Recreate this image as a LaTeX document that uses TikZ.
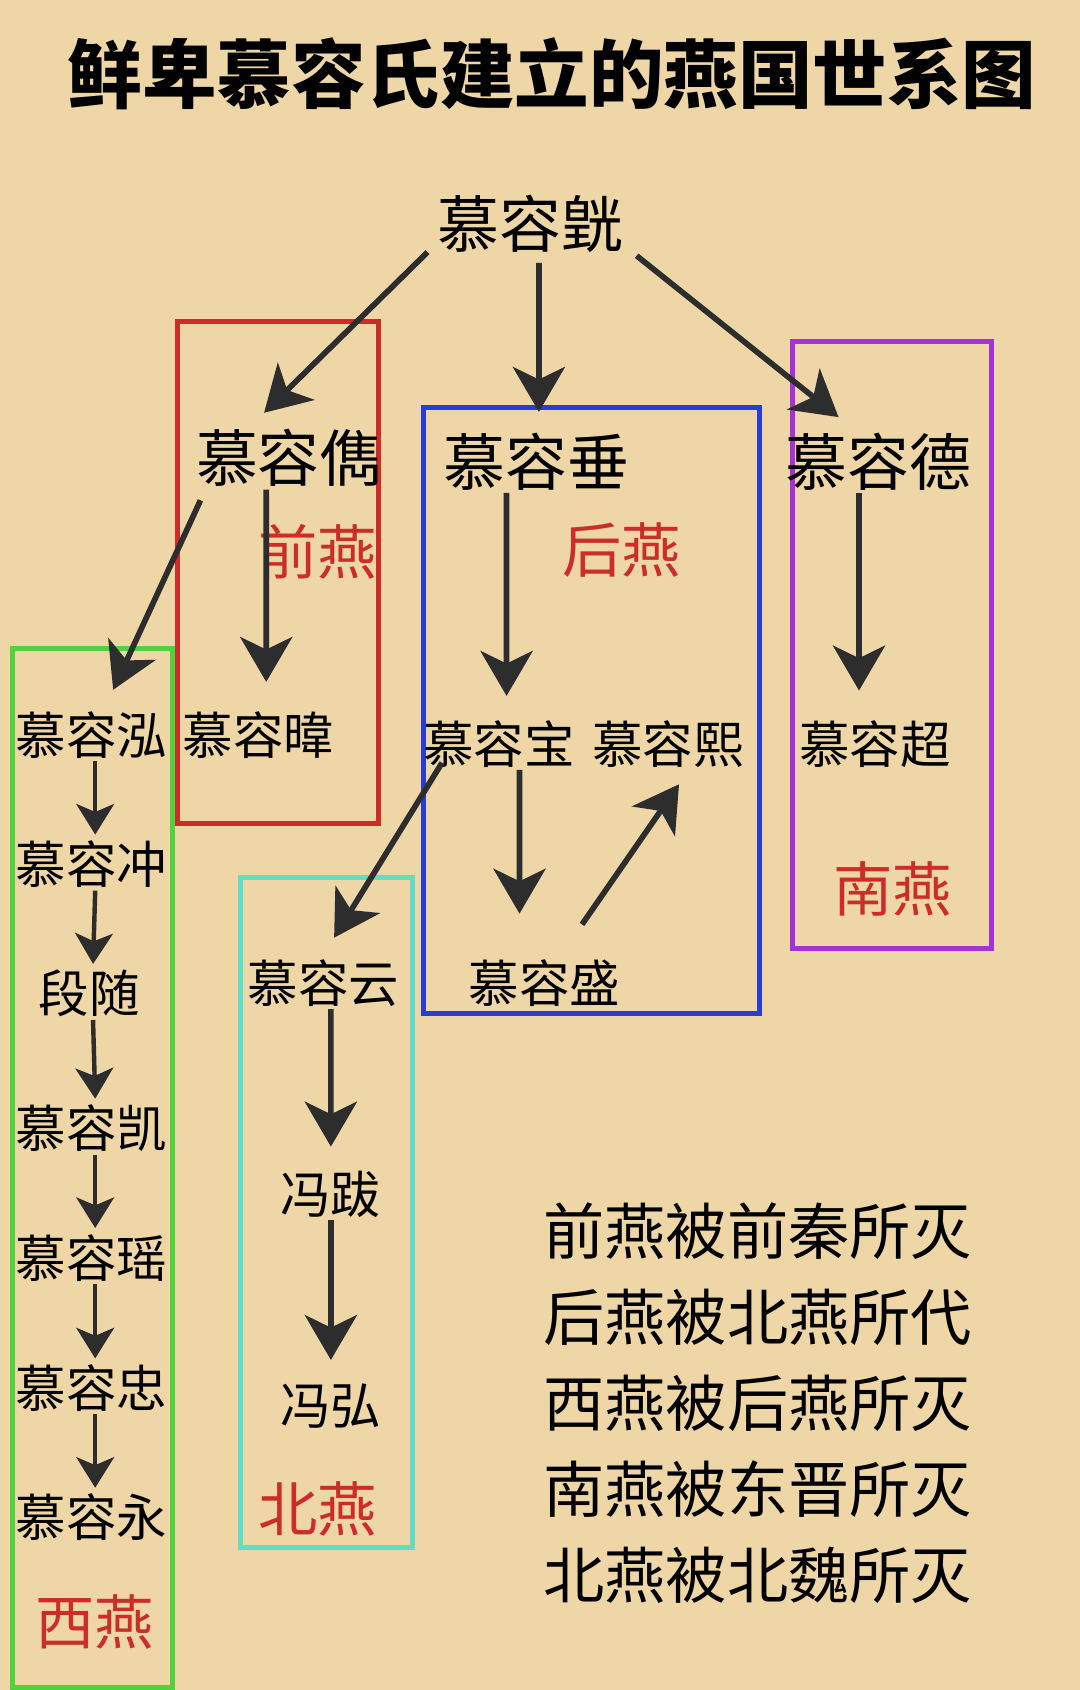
\documentclass[tikz,border=0pt]{standalone}
\usepackage{fontspec}
\newfontfamily\cjk{Noto Sans CJK SC}
\usetikzlibrary{arrows.meta}
\definecolor{paper}{RGB}{238,214,166}
\definecolor{ink}{RGB}{45,45,45}
\definecolor{zred}{RGB}{205,45,40}
\tikzset{
  nm/.style={font=\cjk\fontsize{49}{52}\selectfont,inner sep=2pt},
  sm/.style={font=\cjk\fontsize{40}{44}\selectfont,inner sep=2pt},
  st/.style={font=\cjk\fontsize{47}{50}\selectfont,text=zred},
  ar/.style={draw=ink,line width=4.5pt,-{Stealth[length=1.25cm,width=1.45cm,inset=0.35cm]}},
  sar/.style={draw=ink,line width=3.5pt,-{Stealth[length=0.85cm,width=1.05cm,inset=0.22cm]}},
  fr/.style={line width=4pt}
}
\begin{document}
\begin{tikzpicture}[x=0.03cm,y=-0.03cm]
\fill[paper](0,0)rectangle(1002,1568);
\useasboundingbox(0,0)rectangle(1002,1568);
\node[font=\cjk\bfseries\fontsize{59}{62}\selectfont](title)at(512,68){鲜卑慕容氏建立的燕国世系图};
% boxes
\draw[fr,draw={rgb,255:red,205;green,45;blue,40}](165,298)rectangle(351,764);
\draw[fr,draw={rgb,255:red,40;green,60;blue,215}](393,378)rectangle(705,940);
\draw[fr,draw={rgb,255:red,165;green,50;blue,215}](735,317)rectangle(920,880);
\draw[fr,draw={rgb,255:red,80;green,210;blue,60}](12,602)rectangle(160,1566);
\draw[fr,draw={rgb,255:red,100;green,220;blue,200}](223,814)rectangle(383,1436);
% names
\node[nm](huang)at(492,208){慕容皝};
\node[nm](jun)at(268,425){慕容儁};
\node[nm](chui)at(498,428){慕容垂};
\node[nm](de)at(815,428){慕容德};
\node[sm](hong)at(85,682){慕容泓};
\node[sm](wei)at(240,682){慕容暐};
\node[sm](bao)at(463,690){慕容宝};
\node[sm](xi)at(620,690){慕容熙};
\node[sm](chao)at(812,690){慕容超};
\node[sm](chong)at(85,802){慕容冲};
\node[sm](duan)at(83,922){段随};
\node[sm](kai)at(85,1047){慕容凯};
\node[sm](yao)at(85,1167){慕容瑶};
\node[sm](zhong)at(85,1288){慕容忠};
\node[sm](yong)at(85,1408){慕容永};
\node[sm](yun)at(300,912){慕容云};
\node[sm](sheng)at(505,912){慕容盛};
\node[sm](ba)at(307,1108){冯跋};
\node[sm](fhong)at(307,1305){冯弘};
% states
\node[st](qy)at(295,512){前燕};
\node[st](hy)at(577,510){后燕};
\node[st](ny)at(828,825){南燕};
\node[st](xy)at(88,1505){西燕};
\node[st](by)at(295,1400){北燕};
% arrows
\draw[ar]([shift={(-0.2cm,0.1cm)}]huang.south west)--(245,383);
\draw[ar]([shift={(0.24cm,-0.2cm)}]huang.south)--([shift={(0.06cm,0.5cm)}]chui.north);
\draw[ar]([shift={(0.3cm,0)}]huang.south east)--(778,387);
\draw[ar]([shift={(0.2cm,-0.3cm)}]jun.south west)--(105,640);
\draw[ar]([xshift=-0.63cm]jun.south)--([shift={(0.21cm,0.75cm)}]wei.north);
\draw[ar]([xshift=-0.84cm]chui.south)--([shift={(0.21cm,0.6cm)}]bao.north);
\draw[ar]([xshift=-0.54cm]de.south)--([shift={(-0.45cm,0.75cm)}]chao.north);
\draw[ar]([shift={(0.6cm,0.2cm)}]bao.south west)--(310,870);
\draw[ar]([xshift=0.57cm]bao.south)--([shift={(-0.69cm,1.2cm)}]sheng.north);
\draw[ar]([shift={(1.05cm,0.9cm)}]sheng.north)--([shift={(0.3cm,-0.4cm)}]xi.south);
\draw[ar]([xshift=0.21cm]yun.south)--([yshift=0.6cm]ba.north);
\draw[ar](ba.south)--([yshift=0.6cm]fhong.north);
\foreach \a/\b in {hong/chong,chong/duan,duan/kai,kai/yao,yao/zhong,zhong/yong}
  \draw[sar]([xshift=0.1cm]\a.south)--([shift={(0.1cm,0.1cm)}]\b.north);
% notes
\node[font=\cjk\fontsize{48.5}{68}\selectfont,align=left,anchor=north west](notes)at(500,1112)
{前燕被前秦所灭\\后燕被北燕所代\\西燕被后燕所灭\\南燕被东晋所灭\\北燕被北魏所灭};
\end{tikzpicture}
\end{document}
